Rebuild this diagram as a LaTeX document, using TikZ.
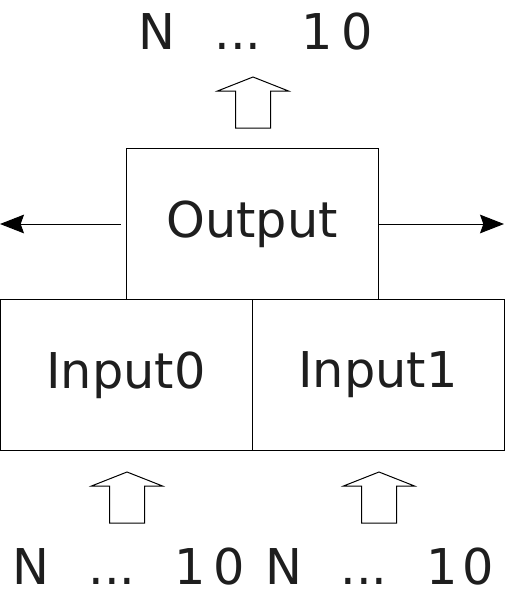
\documentclass[tikz,border=0pt]{standalone}
\usepackage{fontspec}
\setmainfont{DejaVu Sans}
\usetikzlibrary{arrows.meta}
\usetikzlibrary{positioning}
\definecolor{ink}{HTML}{1E1E1E}
\begin{document}
\begin{tikzpicture}[x=0.75pt,y=-0.75pt,line width=0.75pt]
\tikzset{blockbox/.style={draw,rectangle,inner sep=0pt,text=ink,
        minimum width=189pt,minimum height=113pt,
        font=\fontsize{37}{44}\selectfont}}
\tikzset{bit/.style={anchor=base,inner sep=0pt,text=ink,
        font=\fontsize{37}{44}\selectfont}}
\tikzset{blockup/.pic={
        \draw (0,0) -- (35.5,14) -- (17.5,14) -- (17.5,51)
        -- (-17.5,51) -- (-17.5,14) -- (-35.5,14) -- cycle;
    }
}
\tikzset{outarrow/.style={-{Stealth[length=18pt,width=14pt,inset=2.5pt]}}}
\useasboundingbox (0,0) rectangle (505,600);

\node[blockbox] (out) at (252,224) {Output};
\node[blockbox] (in0) at (126,375) {Input0};
\node[blockbox] (in1) at (378,375) {Input1};

\coordinate (lend) at (0,224);
\coordinate (rend) at (504,224);
\draw [outarrow]([xshift=-3.75pt]out.west) -- (lend);
\draw [outarrow](out.east) -- (rend);

\pic at (253,77) {blockup};
\pic at (127,472) {blockup};
\pic at (379,472) {blockup};

%top bits
\node[bit] (tn) at (157,49) {N};
\node[bit] (td) at (238,49) {...};
\node[bit] (t1) at (317,49) {1};
\node[bit] (t0) at (357,49) {0};

%bottom bits
\node[bit] (an) at (31,584) {N};
\node[bit] (ad) at (112,584) {...};
\node[bit] (a1) at (190,584) {1};
\node[bit] (a0) at (229,584) {0};
\node[bit] (bn) at (284,584) {N};
\node[bit] (bd) at (364,584) {...};
\node[bit] (b1) at (442,584) {1};
\node[bit] (b0) at (478,584) {0};
\end{tikzpicture}
\end{document}
